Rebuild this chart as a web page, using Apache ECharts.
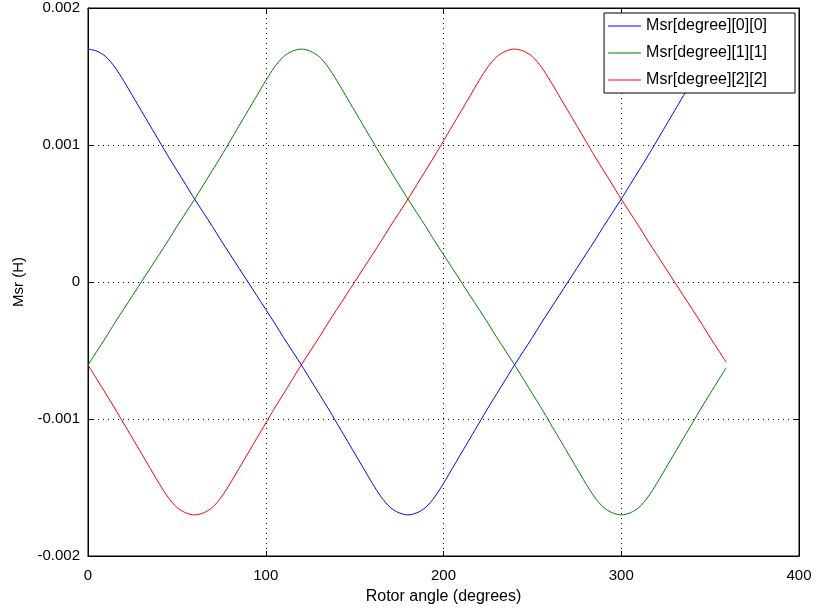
<!DOCTYPE html>
<html>
<head>
<meta charset="utf-8">
<script src="https://cdn.jsdelivr.net/npm/echarts@6/dist/echarts.min.js"></script>
<style>html,body{margin:0;padding:0;background:#fff}#c{width:817px;height:613px}</style>
</head>
<body>
<div id="c"></div>
<script>
var angles = [0,5,10,15,20,25,30,35,40,45,50,55,60,65,70,75,80,85,90,95,100,105,110,115,120,125,130,135,140,145,150,155,160,165,170,175,180,185,190,195,200,205,210,215,220,225,230,235,240,245,250,255,260,265,270,275,280,285,290,295,300,305,310,315,320,325,330,335,340,345,350,355,359];

var seriesNames = ['Msr[degree][0][0]', 'Msr[degree][1][1]', 'Msr[degree][2][2]'];

var msr00 = [1.700e-3,1.685e-3,1.645e-3,1.570e-3,1.470e-3,1.360e-3,1.250e-3,1.140e-3,1.030e-3,0.920e-3,0.815e-3,0.710e-3,0.605e-3,0.505e-3,0.405e-3,0.300e-3,0.200e-3,0.100e-3,0,
 -0.100e-3,-0.200e-3,-0.300e-3,-0.405e-3,-0.505e-3,-0.605e-3,-0.710e-3,-0.815e-3,-0.920e-3,-1.030e-3,-1.140e-3,-1.250e-3,-1.360e-3,-1.470e-3,-1.570e-3,-1.645e-3,-1.685e-3,-1.700e-3,
 -1.685e-3,-1.645e-3,-1.570e-3,-1.470e-3,-1.360e-3,-1.250e-3,-1.140e-3,-1.030e-3,-0.920e-3,-0.815e-3,-0.710e-3,-0.605e-3,-0.505e-3,-0.405e-3,-0.300e-3,-0.200e-3,-0.100e-3,0,
 0.100e-3,0.200e-3,0.300e-3,0.405e-3,0.505e-3,0.605e-3,0.710e-3,0.815e-3,0.920e-3,1.030e-3,1.140e-3,1.250e-3,1.360e-3,1.470e-3,1.570e-3,1.645e-3,1.685e-3,1.699e-3];

var msr11 = [-0.605e-3,-0.505e-3,-0.405e-3,-0.300e-3,-0.200e-3,-0.100e-3,0,0.100e-3,0.200e-3,0.300e-3,0.405e-3,0.505e-3,0.605e-3,0.710e-3,0.815e-3,0.920e-3,1.030e-3,1.140e-3,1.250e-3,
 1.360e-3,1.470e-3,1.570e-3,1.645e-3,1.685e-3,1.700e-3,1.685e-3,1.645e-3,1.570e-3,1.470e-3,1.360e-3,1.250e-3,1.140e-3,1.030e-3,0.920e-3,0.815e-3,0.710e-3,0.605e-3,
 0.505e-3,0.405e-3,0.300e-3,0.200e-3,0.100e-3,0,-0.100e-3,-0.200e-3,-0.300e-3,-0.405e-3,-0.505e-3,-0.605e-3,-0.710e-3,-0.815e-3,-0.920e-3,-1.030e-3,-1.140e-3,-1.250e-3,
 -1.360e-3,-1.470e-3,-1.570e-3,-1.645e-3,-1.685e-3,-1.700e-3,-1.685e-3,-1.645e-3,-1.570e-3,-1.470e-3,-1.360e-3,-1.250e-3,-1.140e-3,-1.030e-3,-0.920e-3,-0.815e-3,-0.710e-3,-0.626e-3];

var msr22 = [-0.605e-3,-0.710e-3,-0.815e-3,-0.920e-3,-1.030e-3,-1.140e-3,-1.250e-3,-1.360e-3,-1.470e-3,-1.570e-3,-1.645e-3,-1.685e-3,-1.700e-3,-1.685e-3,-1.645e-3,-1.570e-3,-1.470e-3,-1.360e-3,-1.250e-3,
 -1.140e-3,-1.030e-3,-0.920e-3,-0.815e-3,-0.710e-3,-0.605e-3,-0.505e-3,-0.405e-3,-0.300e-3,-0.200e-3,-0.100e-3,0,0.100e-3,0.200e-3,0.300e-3,0.405e-3,0.505e-3,0.605e-3,
 0.710e-3,0.815e-3,0.920e-3,1.030e-3,1.140e-3,1.250e-3,1.360e-3,1.470e-3,1.570e-3,1.645e-3,1.685e-3,1.700e-3,1.685e-3,1.645e-3,1.570e-3,1.470e-3,1.360e-3,1.250e-3,
 1.140e-3,1.030e-3,0.920e-3,0.815e-3,0.710e-3,0.605e-3,0.505e-3,0.405e-3,0.300e-3,0.200e-3,0.100e-3,0,-0.100e-3,-0.200e-3,-0.300e-3,-0.405e-3,-0.505e-3,-0.585e-3];

var xTicks = [0, 100, 200, 300, 400];
var yTickLabels = ['-0.002', '-0.001', '0', '0.001', '0.002'];
var colors = ['#0000ff', '#008000', '#ff0000'];

function pairs(xs, ys) { return xs.map(function (x, i) { return [x, ys[i]]; }); }

var font = 'Liberation Sans, Arial, sans-serif';
var chart = echarts.init(document.getElementById('c'), null, {renderer: 'canvas'});

var dotted = {show: true, lineStyle: {color: '#000', width: 1, type: [1, 4]}};
var tickStyle = {show: true, inside: true, length: 5, lineStyle: {color: '#000', width: 1}};
var frameLine = {show: true, onZero: false, lineStyle: {color: '#000', width: 1}};

chart.setOption({
  animation: false,
  backgroundColor: '#fff',
  grid: {left: 88, right: 18, top: 8, bottom: 57, show: true, borderColor: '#000', borderWidth: 1, backgroundColor: 'transparent'},
  legend: {
    orient: 'vertical', right: 22, top: 13,
    data: seriesNames,
    icon: 'rect',
    itemWidth: 33, itemHeight: 1, itemGap: 9,
    padding: [4, 28, 4, 4],
    backgroundColor: '#fff', borderColor: '#000', borderWidth: 1,
    textStyle: {fontFamily: font, fontSize: 16, lineHeight: 18, color: '#000', padding: [0, 0, 0, 0]}
  },
  xAxis: [{
    type: 'value', min: 0, max: 400, interval: 100,
    name: 'Rotor angle (degrees)', nameLocation: 'middle', nameGap: 33,
    nameTextStyle: {fontFamily: font, fontSize: 16, color: '#000'},
    axisLine: frameLine,
    axisTick: tickStyle,
    axisLabel: {fontFamily: font, fontSize: 15, color: '#000', margin: 12,
      formatter: function (v) { return xTicks.indexOf(v) >= 0 ? String(v) : ''; }},
    splitLine: dotted
  }, {
    type: 'value', position: 'top', min: 0, max: 400, interval: 100,
    axisLine: frameLine,
    axisTick: tickStyle, axisLabel: {show: false}, splitLine: {show: false}
  }],
  yAxis: [{
    type: 'value', min: -0.002, max: 0.002, interval: 0.001,
    name: 'Msr (H)', nameLocation: 'middle', nameGap: 61, nameRotate: 90,
    nameTextStyle: {fontFamily: font, fontSize: 15, color: '#000'},
    axisLine: frameLine,
    axisTick: tickStyle,
    axisLabel: {fontFamily: font, fontSize: 15, color: '#000', margin: 8,
      formatter: function (v) { var i = Math.round(v / 0.001) + 2; return yTickLabels[i] || ''; }},
    splitLine: dotted
  }, {
    type: 'value', position: 'right', min: -0.002, max: 0.002, interval: 0.001,
    axisLine: frameLine,
    axisTick: tickStyle, axisLabel: {show: false}, splitLine: {show: false}
  }],
  series: [msr00, msr11, msr22].map(function (vals, i) {
    return {
      name: seriesNames[i], type: 'line', xAxisIndex: 0, yAxisIndex: 0,
      data: pairs(angles, vals), symbol: 'none', smooth: 0.3,
      lineStyle: {color: colors[i], width: 1}, itemStyle: {color: colors[i]}, z: 3
    };
  })
});
</script>
</body>
</html>
